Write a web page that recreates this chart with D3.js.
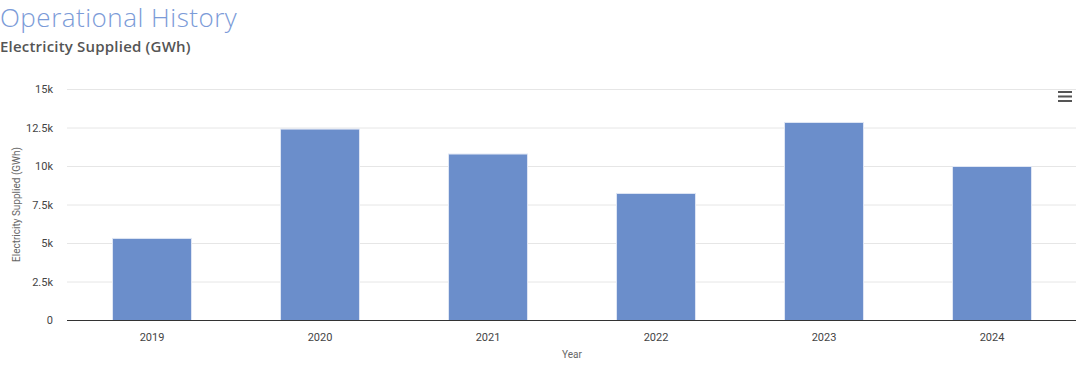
<!DOCTYPE html>
<meta charset="utf-8">
<head>
<script src="https://d3js.org/d3.v7.min.js"></script>
</head>
<style>
  html, body { margin: 0; background: #fff; }
  .title { font-family: "Open Sans", sans-serif; font-weight: 300; font-size: 26px; letter-spacing: 0.5px; fill: #7b9bd8; }
  .subtitle { font-family: "Open Sans", sans-serif; font-weight: 600; font-size: 15px; letter-spacing: 0.2px; fill: #555; }
  .tick text { font-family: Roboto, sans-serif; font-size: 11px; fill: #444; }
  .axis-title { font-family: Roboto, sans-serif; font-size: 10px; fill: #666; }
  .bar { fill: #6b8ecb; stroke: #dfe6f4; stroke-width: 1; }
</style>
<body>
<div id="chart"></div>
<script>
// data
var years = ["2019", "2020", "2021", "2022", "2023", "2024"];
var supplied = [5330, 12430, 10810, 8250, 12860, 10000];
var yTicks = [0, 2500, 5000, 7500, 10000, 12500, 15000];

(function() {
  var W = 1084, H = 384;
  var left = 68, right = 1076, top = 89, bottom = 320;

  var svg = d3.select("#chart").append("svg")
      .attr("width", W)
      .attr("height", H);

  svg.append("text").attr("class", "title")
      .attr("x", 0).attr("y", 27)
      .text("Operational History");
  svg.append("text").attr("class", "subtitle")
      .attr("x", 0).attr("y", 52)
      .text("Electricity Supplied (GWh)");

  var x = d3.scaleBand().domain(years).range([left, right])
      .paddingInner(0.524).paddingOuter(0.262);
  var y = d3.scaleLinear().domain([0, 15000]).range([bottom, top]);

  // gridlines
  svg.append("g").selectAll("line")
      .data(yTicks.filter(function(d) { return d > 0; }))
      .enter().append("line")
      .attr("x1", left - 1).attr("x2", right)
      .attr("y1", function(d) { return y(d) + 0.5; })
      .attr("y2", function(d) { return y(d) + 0.5; })
      .attr("stroke", "#e6e6e6");

  var yAxis = svg.append("g")
      .attr("transform", "translate(" + (left - 12) + ",0)")
      .call(d3.axisLeft(y).tickValues(yTicks).tickSize(0)
        .tickFormat(function(d) { return d === 0 ? "0" : (d / 1000) + "k"; }));
  yAxis.select(".domain").remove();
  yAxis.selectAll(".tick text").attr("dy", "0.32em");

  svg.selectAll(".bar")
      .data(supplied)
      .enter().append("rect")
      .attr("class", "bar")
      .attr("x", function(d, i) { return x(years[i]) + 0.5; })
      .attr("y", function(d) { return y(d) + 0.5; })
      .attr("width", x.bandwidth() - 1)
      .attr("height", function(d) { return bottom - y(d); });

  var xAxis = svg.append("g")
      .attr("transform", "translate(0," + bottom + ")")
      .call(d3.axisBottom(x).tickSize(0).tickPadding(13));
  xAxis.select(".domain").attr("stroke", "#333").attr("d", "M" + (left - 1) + ",0.5H" + right);

  svg.append("text").attr("class", "axis-title")
      .attr("x", (left + right) / 2).attr("y", 358)
      .attr("text-anchor", "middle")
      .text("Year");

  svg.append("text").attr("class", "axis-title")
      .attr("transform", "translate(20," + ((top + bottom) / 2) + ") rotate(-90)")
      .attr("text-anchor", "middle")
      .text("Electricity Supplied (GWh)");

  // menu icon
  svg.append("g").selectAll("rect")
      .data([0, 1, 2])
      .enter().append("rect")
      .attr("x", 1058).attr("y", function(d) { return 91 + d * 4.5; })
      .attr("width", 14).attr("height", 2)
      .attr("fill", "#555");
})();
</script>
</body>
